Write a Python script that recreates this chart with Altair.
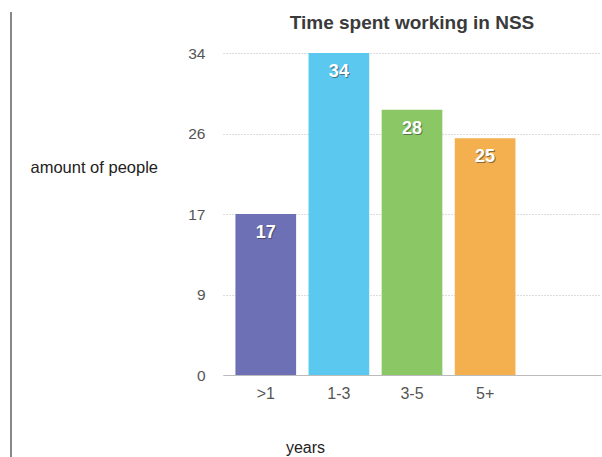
import altair as alt
import pandas as pd

# Survey: how long people have been working in NSS
categories = [">1", "1-3", "3-5", "5+"]
counts = [17, 34, 28, 25]
colors = ["#6E70B5", "#5BC8F0", "#8BC865", "#F4B04F"]
y_ticks = [0, 8.5, 17, 25.5, 34]
chart_title = "Time spent working in NSS"

df = pd.DataFrame({"years": categories, "count": counts, "color": colors})

FONT = "Liberation Sans"
x_domain = categories + [" "]  # extra empty slot at the right

x = alt.X("years:N", scale=alt.Scale(domain=x_domain, paddingInner=0.17, paddingOuter=0.17),
          sort=x_domain,
          axis=alt.Axis(title="years", titleFont=FONT, titleFontSize=16, titleFontWeight="normal",
                        titleColor="#222", titleX=82, titleY=77, titleAlign="center",
                        titleBaseline="alphabetic",
                        labelAngle=0, labelFont=FONT, labelFontSize=16, labelColor="#555",
                        labelPadding=10, ticks=False, domainColor="#bbb", domainWidth=1.2,
                        grid=False))
y = alt.Y("count:Q", scale=alt.Scale(domain=[0, 34], nice=False),
          axis=alt.Axis(values=y_ticks, labelExpr="format(round(datum.value), 'd')",
                        title="amount of people", titleAngle=0, titleAlign="left",
                        titleBaseline="middle", titleX=-193, titleY=114,
                        titleFont=FONT, titleFontSize=16.5, titleFontWeight="normal", titleColor="#222",
                        labelFont=FONT, labelFontSize=15.5, labelColor="#555", labelPadding=18,
                        ticks=False, domain=False, grid=True, gridColor="#bbb",
                        gridDash=[1, 2], gridWidth=1))

base = alt.Chart(df)

bars = base.mark_bar(cornerRadius=0).encode(
    x=x, y=y, color=alt.Color("color:N", scale=None)
)

shadow = base.mark_text(font=FONT, fontSize=18, fontWeight="bold", color="#333",
                        opacity=0.55, dy=20, dx=1).encode(
    x=alt.X("years:N", sort=x_domain), y="count:Q", text="count:Q"
)
labels = base.mark_text(font=FONT, fontSize=18, fontWeight="bold", color="white",
                        dy=19).encode(
    x=alt.X("years:N", sort=x_domain), y="count:Q", text="count:Q"
)

# chart heading above the plot
heading = alt.Chart(pd.DataFrame({"t": [chart_title]})).mark_text(
    font=FONT, fontSize=19, fontWeight="bold", color="#3a3a3a", baseline="alphabetic"
).encode(x=alt.value(189), y=alt.value(-24), text="t:N")

# thin vertical rule along the left edge
edge = alt.Chart(pd.DataFrame({"a": [0]})).mark_rule(color="#888", strokeWidth=2).encode(
    x=alt.value(-212), y=alt.value(-41), y2=alt.value(404)
)

chart = alt.layer(bars, shadow, labels, heading, edge).properties(
    width=378, height=322,
    padding={"left": 223, "top": 53, "right": 1, "bottom": 82},
    autosize=alt.AutoSizeParams(type="none"),
    background="white",
).configure_view(stroke=None)

chart.save("out.html", embed_options={"renderer": "svg", "actions": False})
